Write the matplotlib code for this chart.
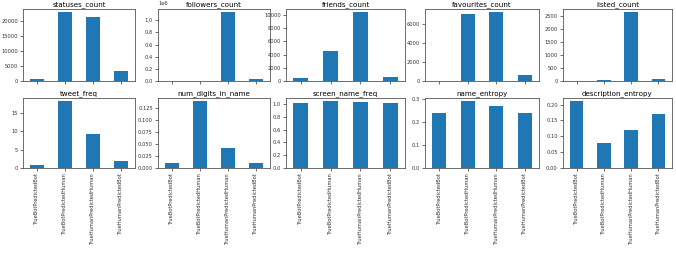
import numpy as np
import matplotlib
matplotlib.use("Agg")
import matplotlib.pyplot as plt
from matplotlib.ticker import MultipleLocator

# ---- data ----
groups = ["TrueBotPredictedBot", "TrueBotPredictedHuman",
          "TrueHumanPredictedHuman", "TrueHumanPredictedBot"]

statuses_count = [700, 23000, 21300, 3300]
followers_count = [1500, 3000, 1130000, 30000]
friends_count = [400, 4600, 10400, 600]
favourites_count = [20, 7000, 7200, 650]
listed_count = [5, 55, 2620, 75]
tweet_freq = [0.9, 18.1, 9.2, 1.8]
num_digits_in_name = [0.011, 0.140, 0.041, 0.011]
screen_name_freq = [1.01, 1.04, 1.03, 1.01]
name_entropy = [0.24, 0.29, 0.27, 0.24]
description_entropy = [0.21, 0.08, 0.12, 0.17]

features = [
    ("statuses_count", statuses_count),
    ("followers_count", followers_count),
    ("friends_count", friends_count),
    ("favourites_count", favourites_count),
    ("listed_count", listed_count),
    ("tweet_freq", tweet_freq),
    ("num_digits_in_name", num_digits_in_name),
    ("screen_name_freq", screen_name_freq),
    ("name_entropy", name_entropy),
    ("description_entropy", description_entropy),
]

# y tick steps where the auto locator differs from the reference
tick_step = {"listed_count": 500, "name_entropy": 0.1}

plt.rcParams["font.size"] = 3.7

W, H = 676, 256
fig = plt.figure(figsize=(W / 100, H / 100), dpi=100)

lefts = [23, 158, 286, 425, 563]
rights = [135, 270, 405, 539, 672]
rows = [(9, 81), (98, 168)]

x = np.arange(len(groups))
for i, (name, vals) in enumerate(features):
    r, c = divmod(i, 5)
    top, bot = rows[r]
    ax = fig.add_axes([lefts[c] / W, 1 - bot / H,
                       (rights[c] - lefts[c]) / W, (bot - top) / H])
    ax.bar(x, vals, width=0.5, color="#1f77b4")
    ax.set_xlim(-0.5, 3.5)
    ax.set_title(name, pad=2, fontsize=5.1)
    ax.tick_params(length=2.2, width=0.5, pad=1.5, labelsize=3.7, colors="#333333")
    ax.set_xticks(x)
    if r == 1:
        ax.set_xticklabels(groups, rotation=90)
    else:
        ax.set_xticklabels([])
    if name in tick_step:
        ax.yaxis.set_major_locator(MultipleLocator(tick_step[name]))
    for s in ax.spines.values():
        s.set_linewidth(0.6)
        s.set_color("#555555")
    ax.yaxis.get_offset_text().set_fontsize(3.7)

fig.savefig("out.png", dpi=100)
